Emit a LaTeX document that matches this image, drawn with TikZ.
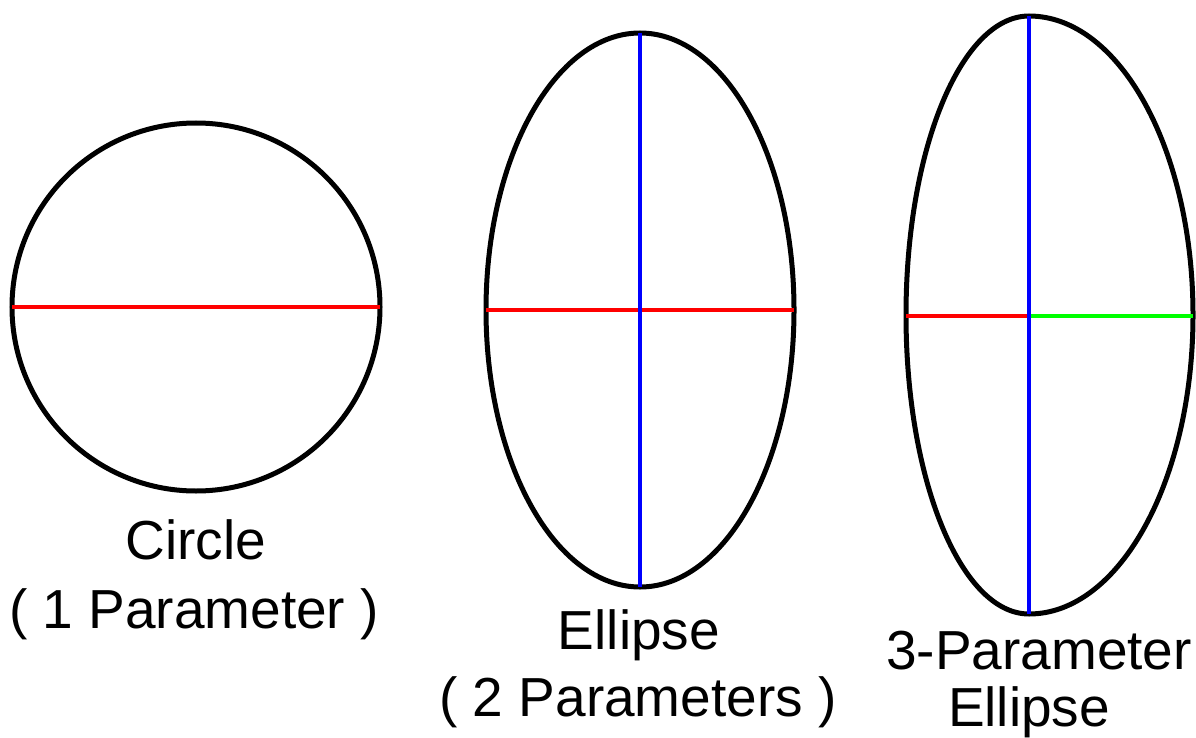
\documentclass[tikz,border=0pt]{standalone}
\usepackage{fontspec}
\setmainfont{Liberation Sans}
\begin{document}
\begin{tikzpicture}[x=1pt,y=-1pt,
  outline/.style={draw=black,line width=5pt},
  axisline/.style={line width=4.5pt},
  lbl/.style={anchor=base,inner sep=0pt,font=\fontsize{55}{60}\selectfont}]
\useasboundingbox (0,0) rectangle (1196,738);
% circle
\coordinate (c1) at (196,307);
\coordinate (c1l) at (12,307);
\coordinate (c1r) at (380,307);
\draw[outline] (c1) circle[radius=184];
\draw[axisline,red] (c1l) -- (c1r);
% ellipse
\coordinate (c2) at (640,310);
\coordinate (c2l) at (486,310);
\coordinate (c2r) at (794,310);
\coordinate (c2t) at (640,33);
\coordinate (c2b) at (640,587);
\draw[outline] (c2) ellipse[x radius=154,y radius=277];
\draw[axisline,red] (c2l) -- (c2r);
\draw[axisline,blue] (c2t) -- (c2b);
% 3-parameter ellipse
\coordinate (c3) at (1029,316);
\coordinate (c3l) at (906,316);
\coordinate (c3r) at (1193,316);
\coordinate (c3t) at (1029,16);
\coordinate (c3b) at (1029,614);
\draw[outline] (c3t) arc[start angle=270,end angle=90,x radius=123,y radius=299]
  arc[start angle=90,end angle=-90,x radius=164,y radius=299] -- cycle;
\draw[axisline,red] (c3l) -- (c3);
\draw[axisline,green] (c3) -- (c3r);
\draw[axisline,blue] (c3t) -- (c3b);
% labels
\node[lbl] (t1) at (196,559) {Circle};
\node[lbl] (t2) at (194,628) {( 1 Parameter )};
\node[lbl] (t3) at (639,649) {Ellipse};
\node[lbl] (t4) at (638,716) {( 2 Parameters )};
\node[lbl] (t5) at (1039,669) {3-Parameter};
\node[lbl] (t6) at (1029,726) {Ellipse};
\end{tikzpicture}
\end{document}
